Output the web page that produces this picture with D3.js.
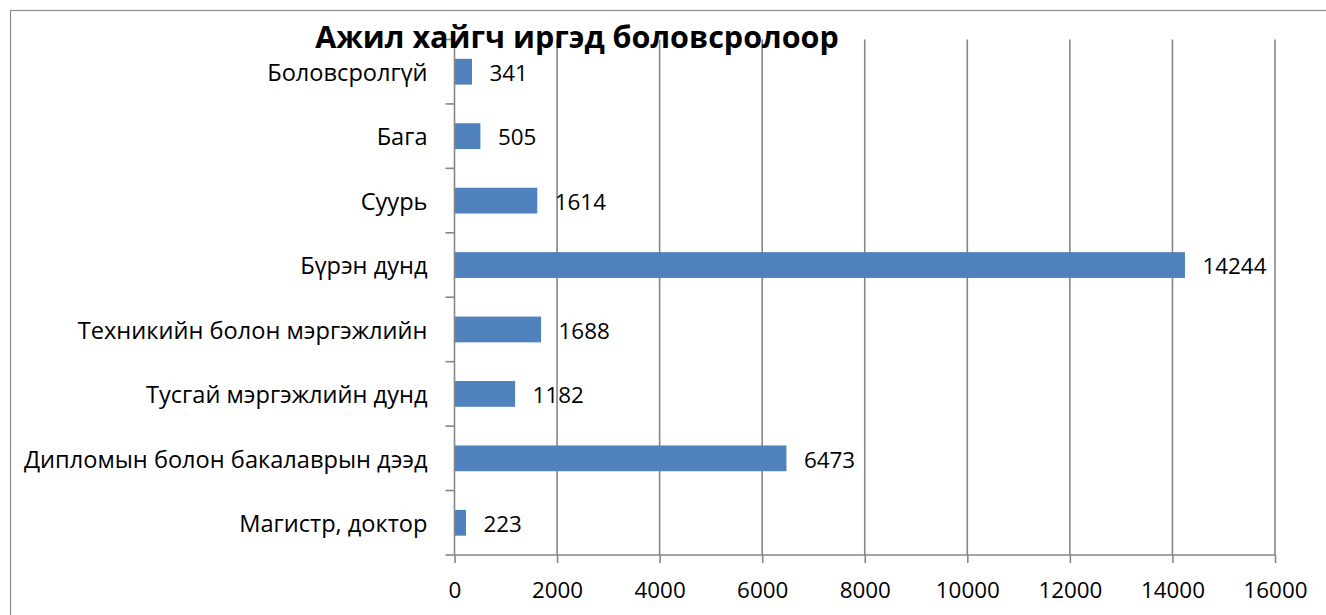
<!DOCTYPE html>
<html>
<head>
<meta charset="utf-8">
<script src="https://cdn.jsdelivr.net/npm/d3@7"></script>
<style>
  body { margin: 0; background: #fff; }
  text { font-family: "Open Sans", "Liberation Sans", sans-serif; fill: #000; }
</style>
</head>
<body>
<div id="chart"></div>
<script>
// chart data
var categories = ["Боловсролгүй", "Бага", "Суурь", "Бүрэн дунд", "Техникийн болон мэргэжлийн",
  "Тусгай мэргэжлийн дунд", "Дипломын болон бакалаврын дээд", "Магистр, доктор"];
var values = [341, 505, 1614, 14244, 1688, 1182, 6473, 223];
var xTicks = [0, 2000, 4000, 6000, 8000, 10000, 12000, 14000, 16000];
var title = "Ажил хайгч иргэд боловсролоор";

var svgWidth = 1326, svgHeight = 615;
var margin = { top: 39.5, right: 51, bottom: 60, left: 454.5 };
var w = svgWidth - margin.left - margin.right;
var h = 555 - margin.top;

var svg = d3.select("#chart").append("svg")
  .attr("width", svgWidth)
  .attr("height", svgHeight);

// outer frame
svg.append("rect")
  .attr("x", 10.5).attr("y", 10.5)
  .attr("width", svgWidth + 20).attr("height", svgHeight + 20)
  .attr("fill", "none").attr("stroke", "#8c8c8c").attr("stroke-width", 1.2);

var g = svg.append("g").attr("transform", `translate(${margin.left}, ${margin.top})`);

var x = d3.scaleLinear().domain([0, 16000]).range([0, w]);
var y = d3.scaleBand().domain(categories).range([0, h]).paddingInner(0.6).paddingOuter(0.3);

// title (drawn first so the axis line sits over it)
svg.append("text")
  .attr("x", 577).attr("y", 48)
  .attr("text-anchor", "middle")
  .style("font-size", "30.5px").style("font-weight", "bold")
  .text(title);

// vertical gridlines
g.selectAll(".grid").data(xTicks.slice(1)).enter().append("line")
  .attr("x1", d => x(d)).attr("x2", d => x(d))
  .attr("y1", 0).attr("y2", h)
  .attr("stroke", "#868686").attr("stroke-width", 1.6);

// bars
g.selectAll(".bar").data(values).enter().append("rect")
  .attr("x", x(0))
  .attr("y", (d, i) => y(categories[i]))
  .attr("width", d => x(d) - x(0))
  .attr("height", y.bandwidth())
  .attr("fill", "#4f81bd");

// value labels
g.selectAll(".val").data(values).enter().append("text")
  .attr("x", d => x(d) + 17.5)
  .attr("y", (d, i) => y(categories[i]) + y.bandwidth() / 2 + 1.5)
  .attr("dy", "0.35em")
  .style("font-size", "22.4px")
  .text(d => d);

// bottom axis
var bottomAxis = d3.axisBottom(x).tickValues(xTicks).tickSize(8).tickPadding(19.5).tickFormat(d3.format("d"));
var xg = g.append("g").attr("transform", `translate(0, ${h})`).call(bottomAxis);
xg.select(".domain").attr("stroke", "#868686").attr("stroke-width", 1.6).attr("d", `M0,0H${w}`);
xg.selectAll(".tick line").attr("stroke", "#868686").attr("stroke-width", 1.6);
xg.selectAll("text").style("font-size", "22.4px").attr("fill", "#000");

// left axis: line plus ticks at band boundaries
g.append("line")
  .attr("x1", 0).attr("x2", 0).attr("y1", 0).attr("y2", h)
  .attr("stroke", "#868686").attr("stroke-width", 1.6);
var step = h / categories.length;
g.selectAll(".ytick").data(d3.range(categories.length + 1)).enter().append("line")
  .attr("x1", -9).attr("x2", 0)
  .attr("y1", d => d * step).attr("y2", d => d * step)
  .attr("stroke", "#868686").attr("stroke-width", 1.6);

// category labels
g.selectAll(".cat").data(categories).enter().append("text")
  .attr("x", -27)
  .attr("y", d => y(d) + y.bandwidth() / 2 + 1)
  .attr("dy", "0.35em")
  .attr("text-anchor", "end")
  .style("font-size", "23.6px")
  .text(d => d);
</script>
</body>
</html>
